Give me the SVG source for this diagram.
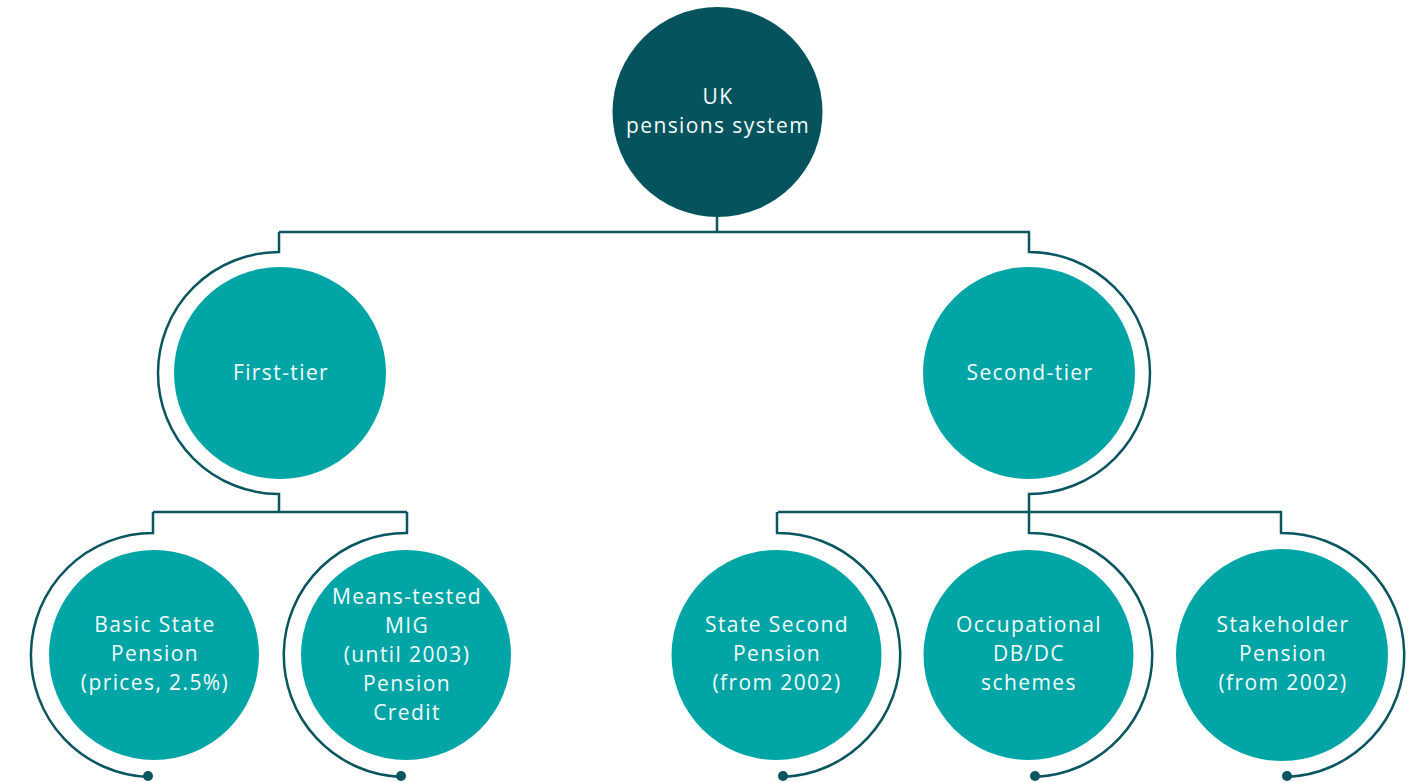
<svg xmlns="http://www.w3.org/2000/svg" width="1414" height="782" viewBox="0 0 1414 782">
<style>
.conn{fill:none;stroke:#0a5660;stroke-width:2.5}
.dot{fill:#0a5660}
.n{fill:#02a5a6}
.root{fill:#05535c}
.t{fill:#f2fbfb;font-family:"Open Sans","DejaVu Sans",sans-serif;font-size:21px;letter-spacing:1.4px;text-anchor:middle}
</style>
<rect width="1414" height="782" fill="#ffffff"/>
<g id="connectors">
<path class="conn" d="M717 217 V232 M279 232 H1030 M279 232 V252 A121 121 0 0 0 279 494 V512 M1029 232 V252 A121 121 0 0 1 1029 494 V512"/>
<path class="conn" d="M153 512 H407 M778 512 H1282"/>
<path class="conn" d="M153 512 V533 A122 122 0 0 0 148 776.9"/>
<path class="conn" d="M407 512 V533 A122 122 0 0 0 401 776.9"/>
<path class="conn" d="M777 512 V533 A122 122 0 0 1 783 776.9"/>
<path class="conn" d="M1029 512 V533 A122 122 0 0 1 1035 776.9"/>
<path class="conn" d="M1281 512 V533 A122 122 0 0 1 1287 776.9"/>
<circle class="dot" cx="148" cy="776" r="5"/>
<circle class="dot" cx="401" cy="776" r="5"/>
<circle class="dot" cx="783" cy="776" r="5"/>
<circle class="dot" cx="1035" cy="776" r="5"/>
<circle class="dot" cx="1287" cy="776" r="5"/>
</g>
<g id="root">
<circle class="root" cx="717.5" cy="112" r="105"/>
<text class="t" x="718" y="104">UK</text>
<text class="t" x="718" y="133">pensions system</text>
</g>
<g id="first-tier">
<circle class="n" cx="280" cy="373" r="106"/>
<text class="t" x="281" y="380">First-tier</text>
</g>
<g id="second-tier">
<circle class="n" cx="1029" cy="373" r="106"/>
<text class="t" x="1030" y="380">Second-tier</text>
</g>
<g id="basic-state-pension">
<circle class="n" cx="154" cy="655" r="105"/>
<text class="t" x="155" y="632">Basic State</text>
<text class="t" x="155" y="661">Pension</text>
<text class="t" x="155" y="690">(prices, 2.5%)</text>
</g>
<g id="means-tested">
<circle class="n" cx="406" cy="655" r="105"/>
<text class="t" x="407" y="604">Means-tested</text>
<text class="t" x="407" y="633">MIG</text>
<text class="t" x="407" y="662">(until 2003)</text>
<text class="t" x="407" y="691">Pension</text>
<text class="t" x="407" y="720">Credit</text>
</g>
<g id="state-second-pension">
<circle class="n" cx="776.5" cy="655" r="105"/>
<text class="t" x="777" y="632">State Second</text>
<text class="t" x="777" y="661">Pension</text>
<text class="t" x="777" y="690">(from 2002)</text>
</g>
<g id="occupational">
<circle class="n" cx="1028.5" cy="655" r="105"/>
<text class="t" x="1029" y="632">Occupational</text>
<text class="t" x="1029" y="661">DB/DC</text>
<text class="t" x="1029" y="690">schemes</text>
</g>
<g id="stakeholder">
<circle class="n" cx="1282" cy="655" r="106"/>
<text class="t" x="1283" y="632">Stakeholder</text>
<text class="t" x="1283" y="661">Pension</text>
<text class="t" x="1283" y="690">(from 2002)</text>
</g>
</svg>
